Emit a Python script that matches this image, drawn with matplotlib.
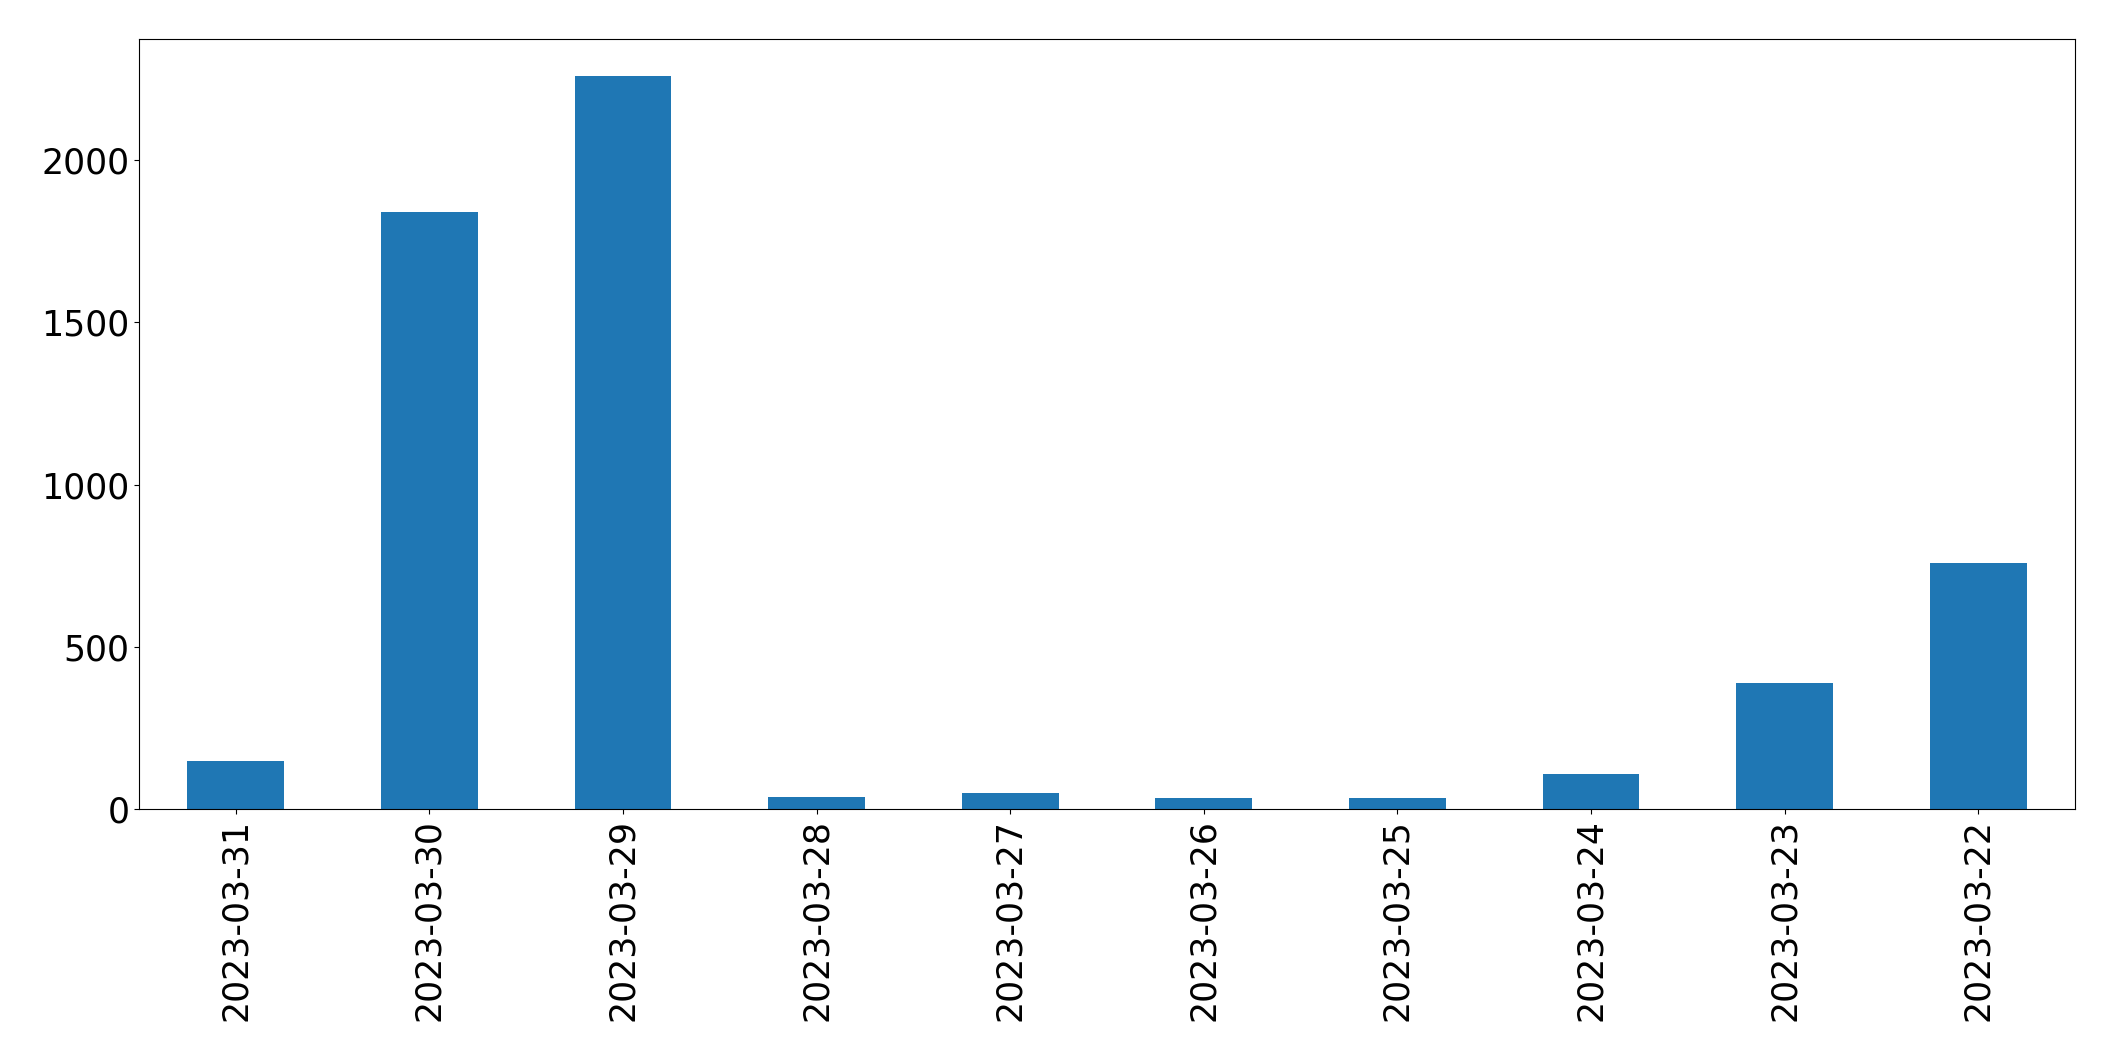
import matplotlib
matplotlib.use("Agg")
import matplotlib.pyplot as plt
import numpy as np

dates = ["2023-03-31", "2023-03-30", "2023-03-29", "2023-03-28", "2023-03-27",
         "2023-03-26", "2023-03-25", "2023-03-24", "2023-03-23", "2023-03-22"]
counts = [149, 1841, 2261, 38, 50, 35, 35, 109, 387, 757]

fig = plt.figure(figsize=(21.15, 10.61), dpi=100)
ax = fig.add_axes([139 / 2115, 1 - 809 / 1061, (2075 - 139) / 2115, (809 - 39) / 1061])

x = np.arange(len(dates))
ax.bar(x, counts, width=0.5, color="#1f77b4")
ax.set_xlim(-0.5, len(dates) - 0.5)
ax.set_xticks(x)
ax.set_xticklabels(dates, rotation=90)
ax.set_yticks([0, 500, 1000, 1500, 2000])
ax.tick_params(labelsize=25)

fig.savefig("out.png", dpi=100)
